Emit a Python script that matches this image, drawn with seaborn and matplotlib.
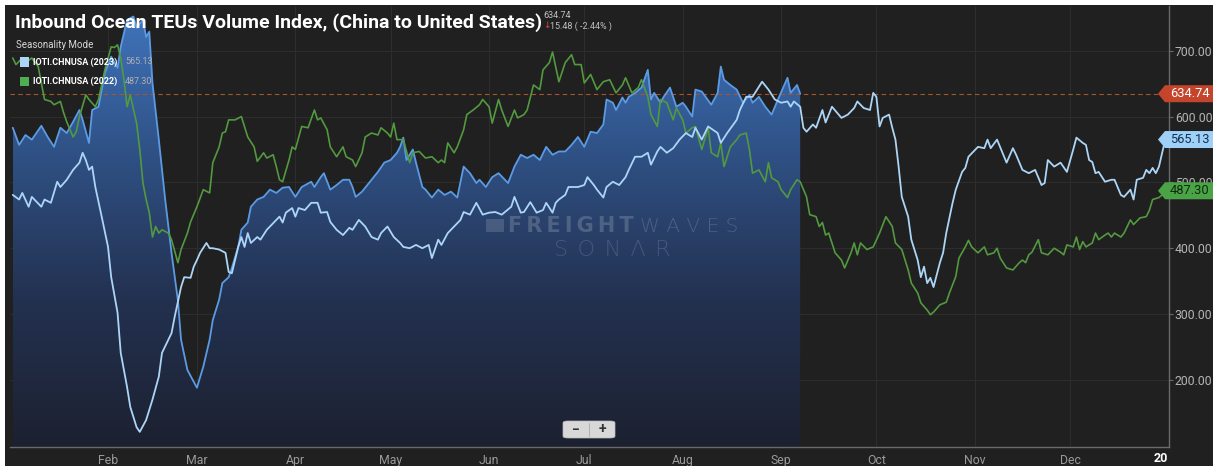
import numpy as np
import pandas as pd
import matplotlib
matplotlib.use("Agg")
import matplotlib.pyplot as plt
import seaborn as sns
from matplotlib.colors import LinearSegmentedColormap
from matplotlib.patches import Polygon, Rectangle, FancyBboxPatch
from matplotlib.transforms import blended_transform_factory

# ---------------- data (day of year, index value) ----------------
days_2024 = [1, 3, 5, 7, 10, 12, 14, 16, 18, 20, 22, 23, 25, 26, 28, 30, 32, 34, 35, 37,
             39, 40, 42, 43, 44, 45, 47, 49, 51, 53, 54, 56, 59, 61, 63, 64, 66, 67, 69, 70,
             72, 73, 75, 76, 78, 80, 82, 84, 86, 88, 90, 92, 95, 96, 98, 99, 101, 103, 105, 107,
             108, 109, 111, 114, 116, 118, 120, 122, 123, 124, 125, 127, 128, 130, 131, 133, 135, 137, 139, 141,
             143, 145, 147, 148, 150, 152, 154, 157, 159, 161, 163, 165, 167, 169, 171, 173, 175, 177, 179, 181,
             183, 185, 187, 188, 190, 191, 193, 194, 195, 197, 199, 201, 202, 203, 205, 206, 208, 210, 212, 213,
             215, 216, 218, 221, 223, 224, 225, 227, 229, 231, 233, 234, 236, 238, 240, 242, 245, 246, 248, 249]
teu_2024 = [583, 557, 572, 565, 586, 569, 554, 583, 575, 592, 610, 595, 560, 610, 615, 666, 691, 674, 706, 747,
            752, 735, 747, 721, 729, 651, 565, 474, 393, 321, 261, 215, 188, 220, 261, 291, 322, 347, 356, 370,
            402, 428, 439, 463, 474, 478, 489, 484, 492, 493, 478, 493, 501, 493, 508, 514, 489, 496, 504, 504,
            493, 478, 486, 504, 516, 530, 534, 545, 554, 568, 534, 550, 530, 493, 489, 477, 489, 481, 486, 477,
            524, 514, 499, 504, 493, 508, 514, 499, 524, 542, 537, 542, 534, 554, 542, 547, 547, 557, 569, 554,
            577, 575, 588, 626, 621, 610, 629, 621, 630, 636, 644, 671, 626, 636, 621, 630, 644, 615, 621, 615,
            600, 641, 638, 618, 636, 676, 656, 648, 641, 621, 633, 621, 630, 615, 603, 626, 659, 636, 648, 634.74]

days_2023 = [1, 3, 4, 6, 7, 10, 11, 13, 15, 16, 18, 20, 22, 23, 24, 25, 26, 27, 29, 31,
             32, 34, 35, 37, 38, 40, 41, 43, 45, 47, 48, 51, 52, 54, 55, 57, 58, 59, 60, 62,
             63, 64, 66, 68, 69, 70, 72, 73, 74, 75, 76, 78, 79, 81, 84, 85, 86, 87, 89, 90,
             91, 93, 95, 97, 98, 100, 101, 103, 105, 107, 108, 110, 112, 114, 116, 117, 119, 121, 123, 124,
             126, 128, 130, 132, 133, 135, 136, 138, 140, 142, 143, 145, 147, 149, 151, 153, 155, 158, 159, 161,
             162, 164, 166, 168, 169, 171, 172, 173, 175, 176, 179, 181, 182, 184, 185, 187, 188, 190, 192, 194,
             195, 197, 199, 201, 202, 204, 205, 207, 209, 211, 213, 215, 216, 218, 220, 223, 224, 226, 229, 230,
             232, 234, 237, 239, 241, 243, 245, 246, 247, 249, 250, 251, 253, 254, 256, 257, 259, 262, 264, 266,
             267, 269, 271, 272, 273, 274, 275, 277, 278, 279, 280, 281, 283, 284, 286, 287, 288, 289, 290, 291,
             293, 294, 295, 297, 298, 300, 301, 302, 305, 307, 308, 309, 311, 314, 316, 317, 319, 321, 323, 325,
             326, 327, 329, 331, 333, 335, 336, 338, 339, 340, 341, 342, 343, 345, 347, 348, 350, 351, 353, 354,
             355, 357, 358, 359, 360, 361, 362, 363, 364]
teu_2023 = [481, 474, 484, 463, 478, 463, 474, 469, 501, 493, 504, 519, 530, 545, 534, 519, 524, 493, 448, 402,
            356, 302, 241, 189, 159, 128, 121, 139, 170, 205, 241, 271, 296, 341, 356, 355, 372, 382, 393, 408,
            400, 400, 398, 393, 364, 362, 402, 417, 402, 423, 408, 417, 413, 428, 443, 448, 439, 454, 461, 448,
            461, 458, 469, 469, 454, 455, 440, 428, 420, 431, 428, 443, 433, 417, 413, 423, 433, 417, 408, 402,
            400, 405, 400, 405, 385, 413, 405, 423, 433, 443, 455, 451, 469, 451, 454, 455, 451, 463, 478, 454,
            455, 470, 454, 458, 469, 454, 469, 474, 481, 493, 493, 496, 508, 496, 489, 477, 493, 501, 496, 508,
            519, 539, 539, 545, 527, 547, 554, 545, 552, 565, 575, 569, 583, 565, 585, 575, 560, 575, 595, 610,
            630, 630, 653, 641, 626, 621, 623, 615, 623, 615, 583, 577, 588, 583, 610, 591, 615, 598, 603, 613,
            623, 613, 610, 636, 630, 585, 598, 603, 583, 565, 524, 478, 448, 413, 382, 356, 372, 347, 355, 341,
            378, 393, 423, 469, 489, 516, 522, 539, 554, 552, 565, 552, 565, 530, 552, 542, 519, 514, 519, 496,
            499, 534, 524, 530, 516, 550, 568, 560, 557, 534, 531, 514, 516, 501, 504, 504, 481, 478, 489, 474,
            504, 507, 519, 514, 522, 514, 524, 545, 565.13]

days_2022 = [1, 2, 4, 5, 7, 9, 10, 11, 13, 14, 16, 17, 18, 20, 21, 22, 24, 25, 27, 28,
             30, 32, 33, 34, 35, 36, 37, 38, 40, 41, 42, 43, 44, 45, 46, 47, 48, 50, 51, 53,
             54, 56, 57, 59, 61, 63, 64, 66, 67, 68, 69, 71, 73, 75, 77, 78, 80, 81, 83, 84,
             85, 86, 88, 89, 90, 92, 94, 96, 97, 98, 100, 101, 103, 105, 106, 108, 109, 111, 112, 114,
             116, 117, 119, 120, 121, 122, 124, 126, 127, 129, 131, 133, 135, 136, 137, 138, 140, 141, 143, 144,
             146, 148, 149, 151, 152, 154, 155, 157, 159, 160, 162, 163, 165, 167, 168, 170, 171, 173, 175, 177,
             178, 180, 181, 183, 185, 187, 189, 191, 193, 194, 196, 198, 199, 201, 202, 204, 205, 207, 209, 210,
             212, 213, 215, 216, 218, 220, 221, 223, 224, 225, 227, 229, 230, 232, 233, 234, 236, 238, 239, 240,
             242, 243, 245, 246, 248, 249, 251, 252, 254, 255, 256, 257, 258, 260, 262, 263, 265, 266, 267, 268,
             270, 272, 274, 276, 278, 279, 281, 283, 284, 286, 287, 289, 290, 291, 293, 295, 296, 298, 299, 301,
             302, 303, 305, 307, 308, 310, 311, 312, 314, 316, 318, 319, 320, 321, 322, 324, 325, 327, 329, 331,
             332, 333, 335, 336, 337, 338, 339, 341, 342, 343, 345, 346, 347, 348, 350, 351, 353, 354, 356, 358,
             359, 360, 362, 363, 364]
teu_2022 = [689, 679, 689, 682, 689, 676, 651, 626, 623, 618, 623, 606, 592, 569, 577, 600, 633, 626, 615, 626,
            671, 706, 705, 709, 689, 656, 615, 633, 590, 550, 499, 474, 454, 417, 433, 423, 428, 423, 413, 378,
            398, 423, 440, 463, 489, 484, 530, 554, 575, 577, 595, 595, 600, 569, 554, 532, 545, 537, 542, 524,
            504, 501, 534, 554, 550, 585, 583, 610, 595, 598, 580, 554, 539, 554, 539, 534, 524, 545, 569, 575,
            572, 583, 575, 569, 590, 565, 565, 530, 545, 547, 537, 539, 530, 534, 530, 560, 545, 554, 580, 603,
            610, 618, 626, 615, 590, 626, 610, 585, 610, 598, 603, 610, 648, 641, 671, 682, 698, 653, 682, 694,
            679, 679, 651, 664, 641, 653, 656, 636, 648, 659, 636, 644, 656, 630, 603, 585, 626, 621, 595, 613,
            595, 575, 583, 585, 550, 583, 545, 539, 560, 524, 554, 565, 572, 575, 550, 514, 519, 501, 530, 507,
            501, 489, 477, 489, 504, 501, 478, 451, 448, 433, 439, 420, 423, 393, 382, 370, 393, 408, 390, 408,
            398, 402, 423, 448, 433, 408, 398, 367, 347, 332, 317, 306, 299, 303, 314, 318, 332, 357, 385, 402,
            412, 402, 393, 402, 390, 393, 400, 385, 370, 367, 378, 382, 378, 390, 394, 413, 393, 390, 400, 394,
            390, 405, 402, 417, 398, 410, 402, 408, 423, 413, 420, 423, 417, 423, 417, 423, 443, 436, 446, 448,
            458, 474, 477, 481, 487.30]

month_labels = ["Feb", "Mar", "Apr", "May", "Jun", "Jul", "Aug", "Sep", "Oct", "Nov", "Dec"]
month_start_days = [31, 59, 90, 120, 151, 181, 212, 243, 273, 304, 334]
y_ticks = [200, 300, 400, 500, 600, 700]
series_names = ["IOTI.CHNUSA (2023)", "IOTI.CHNUSA (2022)"]
title_text = "Inbound Ocean TEUs Volume Index, (China to United States)"
last_value = 634.74
change_abs = 15.48
change_pct = -2.44
last_2023 = 565.13
last_2022 = 487.30

# ---------------- styling ----------------
BG = "#202020"
C24 = "#5b9be4"
C23 = "#acd5f7"
C22 = "#52993f"
sns.set_theme(style="dark", rc={"axes.facecolor": BG, "figure.facecolor": "white"})
plt.rcParams["font.family"] = ["Roboto", "DejaVu Sans"]

W, H = 1213, 466
fig = plt.figure(figsize=(W / 100, H / 100), dpi=100)
fig.patches.append(Rectangle((5 / W, 0), 1, (H - 5) / H, transform=fig.transFigure,
                             facecolor=BG, edgecolor="none", zorder=-10))

x_lo, x_hi = 0, 365
y_lo, y_hi = 98, 768
AX_TOP, AX_BOT = 6, 447
ax = fig.add_axes([9.6 / W, (H - AX_BOT) / H, (1168.5 - 9.6) / W, (AX_BOT - AX_TOP) / H])
ax.set_facecolor(BG)

df24 = pd.DataFrame({"day": days_2024, "value": teu_2024})
df23 = pd.DataFrame({"day": days_2023, "value": teu_2023})
df22 = pd.DataFrame({"day": days_2022, "value": teu_2022})

# gradient area for current year
fill = ax.fill_between(df24["day"], df24["value"], y_lo, color="none", lw=0)
grad = np.linspace(0, 1, 256).reshape(-1, 1)
cmap = LinearSegmentedColormap.from_list("g", ["#1c2130", "#233150", "#2f5185", "#4176bf"])
im = ax.imshow(grad, extent=[df24["day"].min(), df24["day"].max(), y_lo, y_hi], origin="lower",
               aspect="auto", cmap=cmap, zorder=1)
im.set_clip_path(fill.get_paths()[0], transform=ax.transData)

sns.lineplot(data=df24, x="day", y="value", ax=ax, color=C24, linewidth=1.3, zorder=3)
sns.lineplot(data=df22, x="day", y="value", ax=ax, color=C22, linewidth=1.2, zorder=4)
sns.lineplot(data=df23, x="day", y="value", ax=ax, color=C23, linewidth=1.3, zorder=5)

ax.axhline(last_value, color="#a8552e", lw=0.8, ls=(0, (4, 3)), zorder=2)

ax.set_xlim(x_lo, x_hi)
ax.set_ylim(y_lo, y_hi)
ax.set_xlabel("")
ax.set_ylabel("")
ax.set_xticks(month_start_days)
ax.set_xticklabels(month_labels)
ax.set_yticks(y_ticks)
ax.set_yticklabels([f"{v:.2f}" for v in y_ticks])
ax.yaxis.tick_right()
ax.tick_params(axis="x", colors="#9a9a9a", labelsize=8.8, length=0, pad=5)
ax.tick_params(axis="y", color="#6a6a6a", labelcolor="#b5b5b5", labelsize=8.8, length=3,
               width=0.8, pad=1.5)
ax.grid(True, color="#2d2d2d", lw=0.8)
for s in ["top", "left"]:
    ax.spines[s].set_visible(False)
for s in ["right", "bottom"]:
    ax.spines[s].set_visible(True)
    ax.spines[s].set_color("#6a6a6a")
    ax.spines[s].set_linewidth(1.0)

# "20" label at the right end of the x-axis
fig.text(1168 / W, 1 - 459 / H, "20", ha="right", va="center", color="white", fontsize=9,
         fontweight="bold")

# ---------------- price tags on the right ----------------
tf = blended_transform_factory(fig.transFigure, ax.transData)
px = (y_hi - y_lo) / (AX_BOT - AX_TOP)


def tag(value, face, tcolor):
    x0, x1 = 1158 / W, 1.0
    tip = 7 / W
    h = 8.5 * px
    poly = Polygon([(x0, value), (x0 + tip, value + h), (x1, value + h), (x1, value - h),
                    (x0 + tip, value - h)], closed=True, transform=tf, facecolor=face,
                   edgecolor="none", clip_on=False, zorder=10)
    fig.patches.append(poly)
    fig.text((x0 + tip + x1) / 2 + 1 / W, value, f"{value:.2f}", transform=tf, ha="center",
             va="center", color=tcolor, fontsize=9.3, zorder=11)


tag(last_value, "#c4452b", "white")
tag(last_2023, "#9fd0f8", "#14304f")
tag(last_2022, "#4aa446", "#0f2a0f")

# ---------------- title and header ----------------
fig.text(15 / W, 1 - 23 / H, title_text, fontsize=14, fontweight="bold", color="white", va="center")
fig.text(543 / W, 1 - 15 / H, f"{last_value:.2f}", fontsize=6.5, color="#c0c0c0", va="center")
fig.text(543 / W, 1 - 26 / H, "\u2193", fontsize=6.5, color="#e0463c", va="center",
         family=["DejaVu Sans"])
fig.text(550 / W, 1 - 26 / H, f"{change_abs:.2f} ( {change_pct:.2f}% )", fontsize=6.5,
         color="#c0c0c0", va="center")

fig.text(16 / W, 1 - 45 / H, "Seasonality Mode", fontsize=7, color="#d8d8d8", va="center")
for i, (name, val, col) in enumerate(zip(series_names, [last_2023, last_2022], [C23, "#4caf50"])):
    yc = 62 + 19 * i
    fig.patches.append(Rectangle((20 / W, 1 - (yc + 4.5) / H), 9 / W, 9 / H, transform=fig.transFigure,
                                 facecolor=col, edgecolor="none", zorder=12))
    fig.text(33 / W, 1 - yc / H, name, fontsize=6.5, fontweight="bold", color="white", va="center",
             zorder=12)
    fig.text(125 / W, 1 - yc / H, f"{val:.2f}", fontsize=6.5, color="#b0b0b0", va="center", zorder=12)

# ---------------- watermark ----------------
wm = "#6f7f98"
fig.patches.append(Rectangle((486 / W, 1 - 232 / H), 18 / W, 13 / H, transform=fig.transFigure,
                             facecolor=wm, alpha=0.45, edgecolor="none", zorder=6))
fig.text(508 / W, 1 - 226 / H, "F\u2009R\u2009E\u2009I\u2009G\u2009H\u2009T", fontsize=15,
         fontweight="bold", color=wm, alpha=0.55, va="center", family=["DejaVu Sans"])
fig.text(640 / W, 1 - 226 / H, "W A V E S", fontsize=14.5, fontweight="light", color=wm,
         alpha=0.5, va="center", family=["DejaVu Sans"])
fig.text(612 / W, 1 - 250 / H, "S\u200a O\u200a N\u200a \u039b\u200a R", fontsize=16,
         fontweight="light", color=wm, alpha=0.42, va="center", ha="center",
         family=["DejaVu Sans"])

# ---------------- zoom buttons ----------------
fig.patches.append(FancyBboxPatch((563 / W, 1 - 438 / H), 52 / W, 17 / H,
                                  boxstyle="round,pad=0,rounding_size=0.004",
                                  transform=fig.transFigure, facecolor="#d8d8d8",
                                  edgecolor="#bbbbbb", lw=0.5, zorder=12))
fig.text(576 / W, 1 - 429.5 / H, "\u2212", fontsize=10, fontweight="bold", color="#333333",
         ha="center", va="center", zorder=13)
fig.text(602 / W, 1 - 429.5 / H, "+", fontsize=10, fontweight="bold", color="#333333",
         ha="center", va="center", zorder=13)
fig.lines.append(plt.Line2D([589 / W, 589 / W], [1 - 436 / H, 1 - 423 / H], transform=fig.transFigure,
                            color="#aaaaaa", lw=0.6, zorder=13))

fig.savefig("out.png", dpi=100)
